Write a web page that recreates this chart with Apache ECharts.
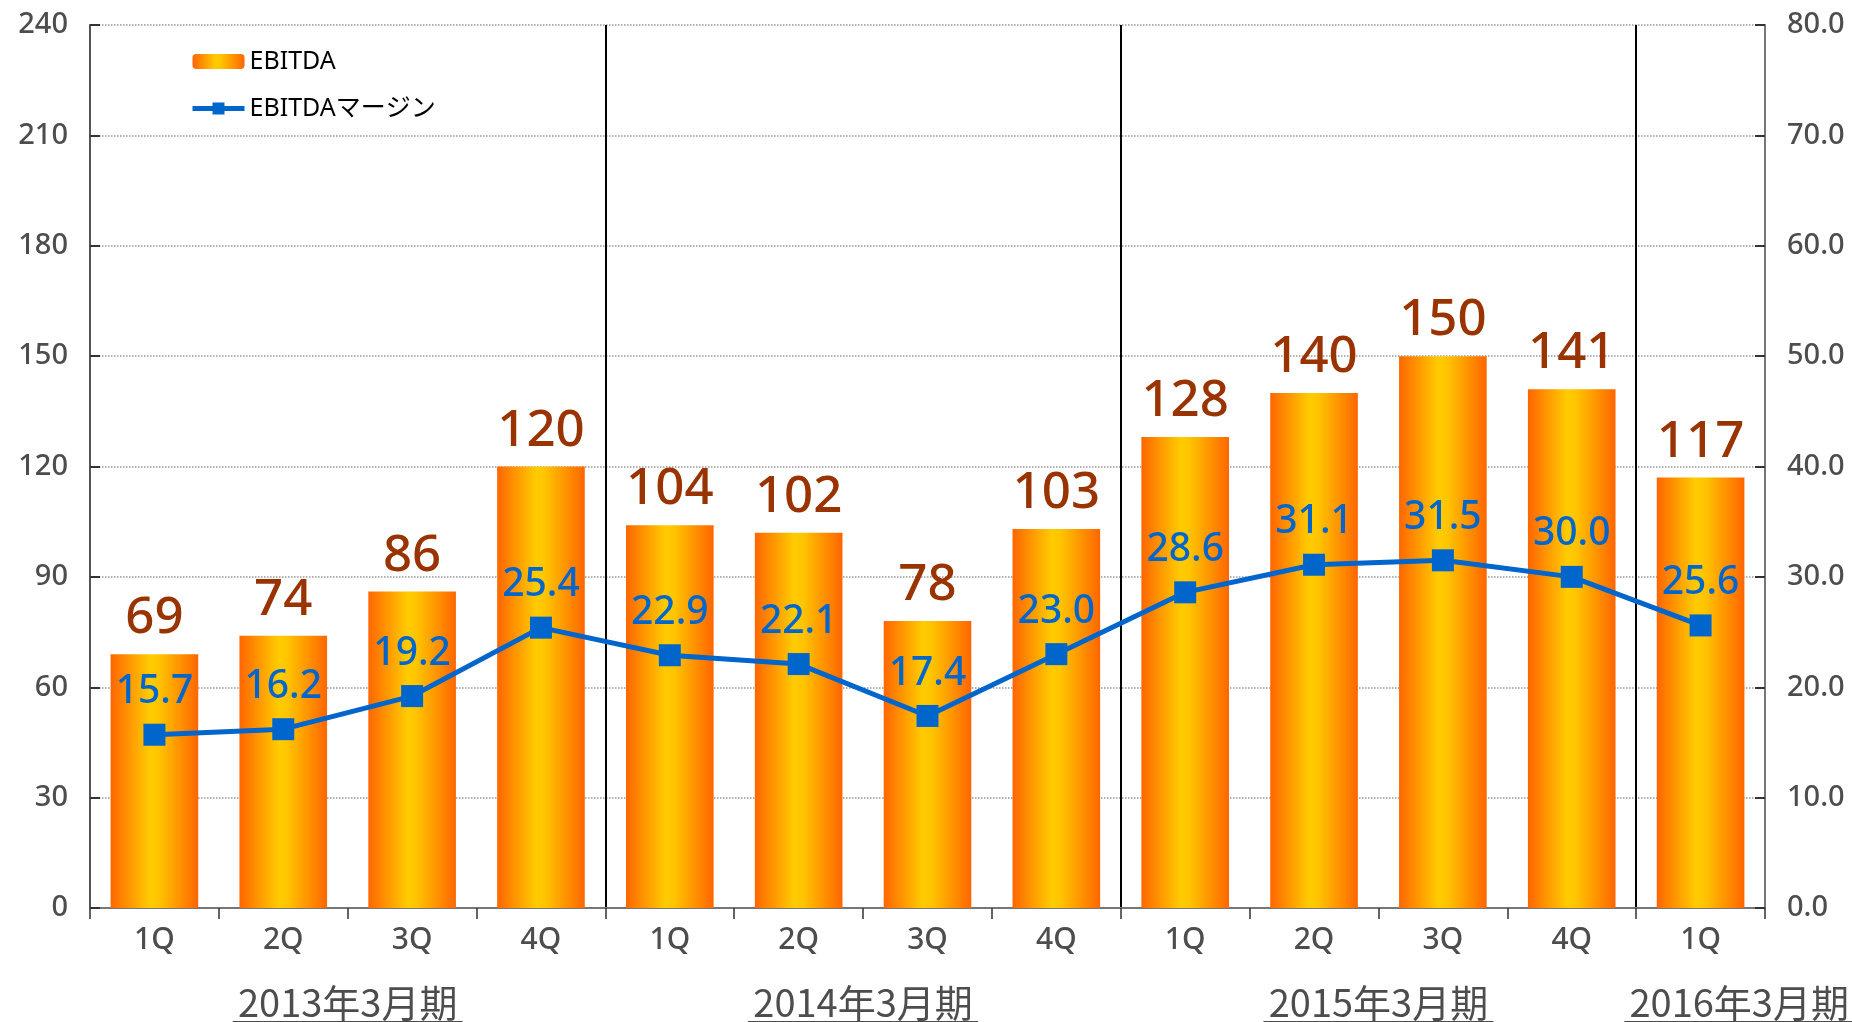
<!DOCTYPE html>
<html>
<head>
<meta charset="utf-8">
<title>EBITDA</title>
<script src="https://cdn.jsdelivr.net/npm/echarts@6/dist/echarts.min.js"></script>
<style>
  html, body { margin: 0; padding: 0; background: #fff; }
  #main { width: 1852px; height: 1022px; }
</style>
</head>
<body>
<div id="main"></div>
<script>
// 四半期
var quarters = ['1Q', '2Q', '3Q', '4Q', '1Q', '2Q', '3Q', '4Q', '1Q', '2Q', '3Q', '4Q', '1Q'];
// 決算期
var periods = ['2013年3月期', '2014年3月期', '2015年3月期', '2016年3月期'];
// EBITDA（左軸）
var ebitda = [69, 74, 86, 120, 104, 102, 78, 103, 128, 140, 150, 141, 117];
// EBITDAマージン（右軸, %）
var margin = [15.7, 16.2, 19.2, 25.4, 22.9, 22.1, 17.4, 23.0, 28.6, 31.1, 31.5, 30.0, 25.6];
// 軸目盛
var leftTicks = [0, 30, 60, 90, 120, 150, 180, 210, 240];
var rightTicks = [0, 10, 20, 30, 40, 50, 60, 70, 80];

var myChart = echarts.init(document.getElementById('main'));

var barColor = new echarts.graphic.LinearGradient(0, 0, 1, 0, [
    { offset: 0, color: '#ff6600' },
    { offset: 0.45, color: '#ffcc00' },
    { offset: 0.55, color: '#ffc400' },
    { offset: 1, color: '#ff6600' }
]);

// 決算期ラベルの位置（四半期軸上）
var periodPos = [2, 6, 10, 12.8];

var option = {
    animation: false,
    textStyle: { fontFamily: "'Noto Sans', 'Noto Sans CJK JP', sans-serif" },
    grid: { left: 90, right: 87, top: 25, bottom: 114, containLabel: false, outerBoundsMode: 'none' },
    legend: {
        orient: 'vertical',
        left: 185,
        top: 44,
        itemWidth: 52,
        itemHeight: 15,
        itemGap: 22,
        lineStyle: { width: 5 },
        textStyle: { fontSize: 25, color: '#000' },
        data: ['EBITDA', 'EBITDAマージン']
    },
    xAxis: [{
        type: 'category',
        data: quarters,
        axisLine: { lineStyle: { color: '#777', width: 2 } },
        axisTick: { show: true, length: 11, lineStyle: { color: '#333', width: 1.5 } },
        axisLabel: { fontSize: 30, fontWeight: 500, color: '#4d4d4d', margin: 17 },
        splitLine: {
            show: true,
            interval: function (index) { return index === 4 || index === 8 || index === 12; },
            lineStyle: { color: '#000', width: 2, type: 'solid' }
        }
    }, {
        type: 'value',
        position: 'bottom',
        min: 0,
        max: quarters.length,
        interval: quarters.length,
        axisLine: { show: false },
        axisTick: { show: false },
        splitLine: { show: false },
        axisLabel: {
            customValues: periodPos,
            margin: 77,
            formatter: function (v) {
                return '{t|' + periods[periodPos.indexOf(v)] + '}\n{u|}';
            },
            rich: {
                t: { fontSize: 38, fontFamily: "'Noto Sans CJK JP', sans-serif", color: '#4d4d4d', lineHeight: 36 },
                u: { width: 230, height: 2, lineHeight: 2, backgroundColor: '#4d4d4d' }
            }
        }
    }],
    yAxis: [{
        type: 'value',
        min: leftTicks[0],
        max: leftTicks[leftTicks.length - 1],
        interval: leftTicks[1] - leftTicks[0],
        axisLine: { show: true, lineStyle: { color: '#555', width: 2 } },
        axisTick: { show: true, inside: true, length: 10, lineStyle: { color: '#333', width: 2 } },
        axisLabel: { fontSize: 29, fontWeight: 500, color: '#4d4d4d', margin: 22 },
        splitLine: { show: true, lineStyle: { color: '#999', width: 1.5, type: 'dotted' } }
    }, {
        type: 'value',
        min: rightTicks[0],
        max: rightTicks[rightTicks.length - 1],
        interval: rightTicks[1] - rightTicks[0],
        axisLine: { show: true, lineStyle: { color: '#777', width: 2 } },
        axisTick: { show: true, inside: true, length: 10, lineStyle: { color: '#333', width: 2 } },
        axisLabel: {
            fontSize: 29, fontWeight: 500, color: '#4d4d4d', margin: 22,
            formatter: function (v) { return v.toFixed(1); }
        },
        splitLine: { show: false }
    }],
    series: [{
        name: 'EBITDA',
        type: 'bar',
        barWidth: '68%',
        data: ebitda,
        itemStyle: { color: barColor },
        label: {
            show: true,
            position: 'top',
            distance: 10,
            fontSize: 51,
            fontWeight: 500,
            color: '#993300'
        }
    }, {
        name: 'EBITDAマージン',
        type: 'line',
        yAxisIndex: 1,
        data: margin,
        symbol: 'rect',
        symbolSize: 22,
        lineStyle: { color: '#0066cc', width: 5 },
        itemStyle: { color: '#0066cc' },
        label: {
            show: true,
            position: 'top',
            distance: 12,
            fontSize: 39,
            fontWeight: 500,
            color: '#0066cc',
            formatter: function (p) { return p.value.toFixed(1); }
        }
    }]
};

myChart.setOption(option);
</script>
</body>
</html>
